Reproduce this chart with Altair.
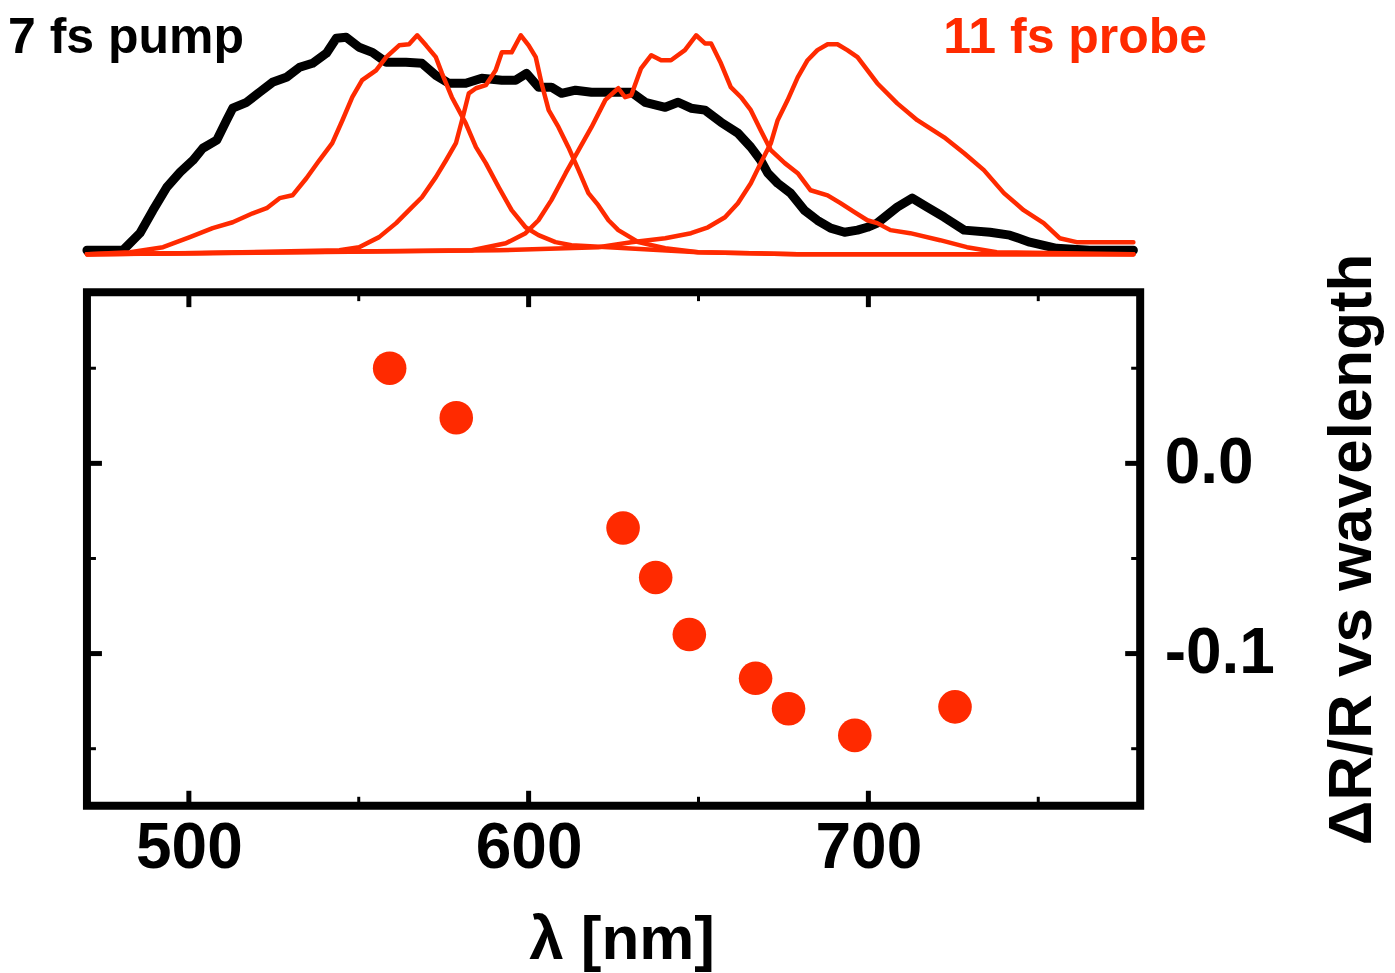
import altair as alt
import pandas as pd

# ---------------- data ----------------
# pump spectrum (normalised)
pump_lam = [470, 480.6, 485.6, 489.4, 493.5, 497.4, 501.2, 504.1, 508.2, 511.1, 512.9, 517.0,
            520.8, 524.6, 528.7, 532.6, 536.4, 540.5, 543.4, 546.3, 550.1, 554.0, 558.1, 563.9,
            568.6, 572.7, 576.5, 581.5, 586.2, 592.1, 596.2, 599.4, 602.9, 606.7, 609.7, 613.8,
            618.5, 625.5, 630.2, 634.3, 640.2, 644.0, 647.8, 651.9, 656.6, 661.6, 665.4, 668.3,
            670.4, 673.3, 677.1, 681.2, 685.0, 688.9, 693.0, 696.8, 699.7, 702.6, 708.5, 712.9,
            717.3, 722.3, 728.2, 735.8, 741.6, 747.5, 755.4, 765.1, 778.0]
pump_val = [0.018, 0.018, 0.096, 0.20, 0.306, 0.374, 0.429, 0.484, 0.521, 0.612, 0.667, 0.694,
            0.740, 0.785, 0.808, 0.854, 0.872, 0.918, 0.986, 0.991, 0.945, 0.922, 0.877, 0.877,
            0.872, 0.817, 0.781, 0.781, 0.804, 0.795, 0.795, 0.826, 0.763, 0.763, 0.735, 0.749,
            0.740, 0.740, 0.740, 0.694, 0.671, 0.694, 0.667, 0.658, 0.603, 0.553, 0.489, 0.429,
            0.370, 0.324, 0.279, 0.20, 0.155, 0.119, 0.100, 0.110, 0.123, 0.142, 0.215, 0.256,
            0.215, 0.169, 0.110, 0.100, 0.087, 0.055, 0.027, 0.018, 0.018]

# four probe spectra (normalised)
probe1_lam = [470, 482.7, 492.4, 500.3, 507.0, 512.9, 518.8, 522.9, 526.7, 530.5, 534.6, 538.4,
              542.2, 545.2, 548.1, 551.0, 555.1, 558.1, 561.9, 564.8, 567.2, 569.8, 572.7, 574.5,
              577.4, 581.5, 584.5, 587.4, 591.2, 595.0, 599.1, 602.9, 607.9, 612.6, 623.5, 649.9,
              679.2, 778]
probe1_val = [0.0, 0.009, 0.032, 0.078, 0.119, 0.146, 0.187, 0.21, 0.256, 0.269, 0.347, 0.429,
              0.507, 0.612, 0.717, 0.795, 0.840, 0.9, 0.954, 0.959, 1.0, 0.954, 0.9, 0.826,
              0.717, 0.598, 0.489, 0.416, 0.306, 0.201, 0.123, 0.087, 0.055, 0.041, 0.032, 0.009,
              0.0, 0.0]

probe2_lam = [470, 503.2, 544.3, 550.1, 556.0, 561.0, 564.8, 568.6, 572.7, 575.7, 578.6, 580.4,
              582.4, 584.5, 587.4, 590.3, 592.1, 595.0, 597.7, 600.0, 602.1, 603.8, 605.9, 608.8,
              611.7, 614.7, 617.6, 620.5, 623.5, 626.4, 632.3, 640.2, 649.9, 679.2, 778]
probe2_val = [0.0, 0.005, 0.018, 0.032, 0.078, 0.142, 0.201, 0.260, 0.352, 0.429, 0.507, 0.612,
              0.735, 0.758, 0.772, 0.840, 0.922, 0.922, 1.0, 0.954, 0.9, 0.781, 0.658, 0.580,
              0.489, 0.384, 0.279, 0.224, 0.155, 0.110, 0.055, 0.027, 0.009, 0.0, 0.0]

probe3_lam = [470, 583.3, 593.3, 599.1, 602.9, 606.7, 610.9, 614.7, 618.5, 622.6, 626.4, 628.4,
              630.2, 633.1, 636.1, 639.0, 641.9, 646.0, 649.3, 651.9, 653.7, 656.6, 659.5, 662.5,
              665.4, 668.3, 671.3, 675.4, 679.2, 683.0, 688.0, 691.8, 695.9, 699.7, 702.6, 706.5,
              712.3, 721.1, 729.0, 737.8, 778]
probe3_val = [0.0, 0.018, 0.050, 0.096, 0.155, 0.247, 0.370, 0.475, 0.580, 0.705, 0.758, 0.717,
              0.726, 0.849, 0.909, 0.886, 0.886, 0.932, 1.0, 0.963, 0.963, 0.872, 0.763, 0.717,
              0.658, 0.566, 0.475, 0.416, 0.370, 0.292, 0.269, 0.233, 0.192, 0.155, 0.142, 0.110,
              0.096, 0.064, 0.032, 0.009, 0.0]

probe4_lam = [470, 532.6, 591.2, 620.5, 630.2, 640.2, 647.8, 652.8, 657.8, 661.6, 665.4, 668.3,
              671.3, 673.3, 676.2, 679.2, 682.1, 685.0, 688.0, 690.9, 693.8, 696.8, 702.6, 708.5,
              714.4, 722.3, 728.2, 734.0, 739.9, 745.7, 751.6, 756.3, 761.3, 778]
probe4_val = [0.0, 0.009, 0.018, 0.032, 0.055, 0.073, 0.096, 0.123, 0.169, 0.233, 0.324, 0.416,
              0.507, 0.612, 0.703, 0.808, 0.886, 0.932, 0.959, 0.959, 0.932, 0.9, 0.781, 0.689,
              0.612, 0.534, 0.461, 0.384, 0.279, 0.201, 0.142, 0.073, 0.055, 0.055]

# Delta R / R versus wavelength
dr_lam = [559.1, 578.7, 627.8, 637.4, 647.3, 666.8, 676.5, 696.0, 725.5]
dr_val = [0.050, 0.024, -0.034, -0.060, -0.090, -0.113, -0.129, -0.143, -0.128]

x_major = [500, 600, 700]
x_minor = [550, 650, 750]
y_major = [0.0, -0.1]
y_minor = [0.05, -0.05, -0.15]

label_pump = "7 fs pump"
label_probe = "11 fs probe"
x_title = "λ [nm]"
y_title = "ΔR/R vs wavelength"

# ---------------- styling ----------------
FONT = "Liberation Sans"
RED = "#ff2a00"
W = 1054
H_TOP = 248
H_BOT = 514

xscale = alt.Scale(domain=[470, 780], nice=False, zero=False)
top_y = alt.Scale(domain=[-0.009, 1.123], nice=False, zero=False)
bot_y = alt.Scale(domain=[-0.18, 0.09], nice=False, zero=False)

pump_df = pd.DataFrame({"lam": pump_lam, "val": pump_val})
probe_df = pd.concat(
    [pd.DataFrame({"lam": l, "val": v, "series": f"probe{i + 1}"})
     for i, (l, v) in enumerate([(probe1_lam, probe1_val), (probe2_lam, probe2_val),
                                 (probe3_lam, probe3_val), (probe4_lam, probe4_val)])],
    ignore_index=True)

pump_line = alt.Chart(pump_df).mark_line(
    color="black", strokeWidth=9, strokeJoin="round", strokeCap="round"
).encode(
    x=alt.X("lam:Q", scale=xscale, axis=None),
    y=alt.Y("val:Q", scale=top_y, axis=None),
)

probe_line = alt.Chart(probe_df).mark_line(
    color=RED, strokeWidth=4.5, strokeJoin="round", strokeCap="round"
).encode(
    x=alt.X("lam:Q", scale=xscale, axis=None),
    y=alt.Y("val:Q", scale=top_y, axis=None),
    detail="series:N",
)

pump_text = alt.Chart(pd.DataFrame({"t": [label_pump]})).mark_text(
    font=FONT, fontSize=50, fontWeight="bold", align="left", baseline="alphabetic", color="black"
).encode(x=alt.value(-79), y=alt.value(45), text="t:N")

probe_text = alt.Chart(pd.DataFrame({"t": [label_probe]})).mark_text(
    font=FONT, fontSize=50, fontWeight="bold", align="left", baseline="alphabetic", color=RED
).encode(x=alt.value(857), y=alt.value(45), text="t:N")

top = alt.layer(pump_line, probe_line, pump_text, probe_text).properties(
    width=W, height=H_TOP, view=alt.ViewBackground(stroke="transparent", strokeWidth=0)
)

x_axis = alt.Axis(
    values=x_major, format="d", title=x_title, domain=False, ticks=False, grid=False,
    labelFont=FONT, labelFontSize=64, labelFontWeight="bold", labelColor="black",
    labelPadding=11, labelFlush=False,
    titleFont=FONT, titleFontSize=62, titleFontWeight="bold", titleColor="black",
    titlePadding=29, titleX=535)

y_axis = alt.Axis(
    orient="right", values=y_major, title=y_title, domain=False, ticks=False, grid=False,
    labelExpr="datum.value < 0 ? '-' + format(-datum.value, '.1f') : format(datum.value, '.1f')",
    labelFont=FONT, labelFontSize=64, labelFontWeight="bold", labelColor="black",
    labelPadding=24, labelFlush=False, labelAlign="left",
    titleFont=FONT, titleFontSize=62, titleFontWeight="bold", titleColor="black",
    titleAngle=270, titleBaseline="top", titlePadding=47)

dr_df = pd.DataFrame({"lam": dr_lam, "dr": dr_val})

points = alt.Chart(dr_df).mark_circle(size=1130, color=RED, opacity=1).encode(
    x=alt.X("lam:Q", scale=xscale, axis=x_axis),
    y=alt.Y("dr:Q", scale=bot_y, axis=y_axis),
)

xmaj = pd.DataFrame({"lam": x_major})
xmin = pd.DataFrame({"lam": x_minor})
ymaj = pd.DataFrame({"dr": y_major})
ymin = pd.DataFrame({"dr": y_minor})

def xtick(df, y0, y1, sw):
    return alt.Chart(df).mark_rule(color="black", strokeWidth=sw).encode(
        x=alt.X("lam:Q", scale=xscale, axis=x_axis), y=alt.value(y0), y2=alt.value(y1))

def ytick(df, x0, x1, sw):
    return alt.Chart(df).mark_rule(color="black", strokeWidth=sw).encode(
        y=alt.Y("dr:Q", scale=bot_y, axis=y_axis), x=alt.value(x0), x2=alt.value(x1))

ticks = [
    xtick(xmaj, H_BOT, H_BOT - 15, 5), xtick(xmaj, 0, 15, 5),
    xtick(xmin, H_BOT, H_BOT - 9, 3), xtick(xmin, 0, 9, 3),
    ytick(ymaj, 0, 15, 5), ytick(ymaj, W, W - 15, 5),
    ytick(ymin, 0, 9, 3), ytick(ymin, W, W - 9, 3),
]

bottom = alt.layer(points, *ticks).properties(
    width=W, height=H_BOT, view=alt.ViewBackground(stroke="black", strokeWidth=8)
)

chart = alt.vconcat(top, bottom, spacing=36, bounds="flush").properties(padding=0).configure(
    background="white"
)

chart.save("out.html", embed_options={"renderer": "svg", "actions": False})
